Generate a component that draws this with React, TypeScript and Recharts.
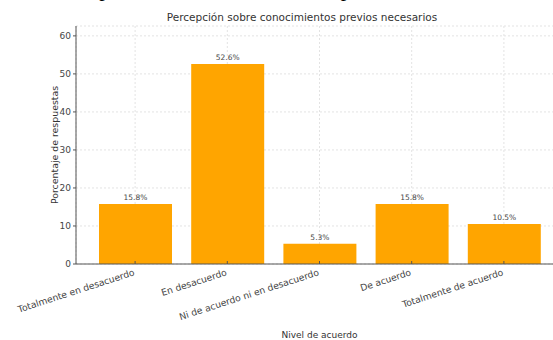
import { BarChart, Bar, XAxis, YAxis, CartesianGrid, LabelList } from "recharts";

const niveles = [
  "Totalmente en desacuerdo",
  "En desacuerdo",
  "Ni de acuerdo ni en desacuerdo",
  "De acuerdo",
  "Totalmente de acuerdo",
];
const porcentajes = [15.8, 52.6, 5.3, 15.8, 10.5];
const yTicks = [0, 10, 20, 30, 40, 50, 60];

const font = "'DejaVu Sans', sans-serif";
const axisColor = "#555";
const textColor = "#444";

const data = niveles.map((nivel, i) => ({ nivel, pct: porcentajes[i] }));

// rotated category label, right end pinned just under its tick
function XTick({ x, y, payload }: any) {
  const ay = y + 12;
  return (
    <text
      x={x}
      y={ay}
      textAnchor="end"
      transform={`rotate(-18, ${x}, ${ay})`}
      fontSize={9.2}
      fontFamily={font}
      fill={textColor}
    >
      {payload.value}
    </text>
  );
}

export default function App() {
  return (
    <div
      style={{
        position: "absolute",
        left: 0,
        top: 0,
        width: 553,
        height: 340,
        overflow: "hidden",
        background: "#fff",
      }}
    >
      {/* page heading above the figure, only its lowest strokes fit */}
      <div
        style={{
          position: "absolute",
          left: 0,
          top: 0,
          width: 553,
          height: 9,
          overflow: "hidden",
        }}
      >
        <div
          style={{
            position: "absolute",
            left: 0,
            top: -22,
            width: 553,
            textAlign: "center",
            whiteSpace: "nowrap",
            fontFamily: "'Liberation Serif', serif",
            fontSize: 22,
            lineHeight: "22px",
            color: "#000",
          }}
        >
          Percepción sobre conocimientos previos necesarios
        </div>
      </div>

      <div
        style={{
          position: "absolute",
          left: 0,
          top: 11,
          width: 604,
          textAlign: "center",
          fontFamily: font,
          fontSize: 10.5,
          color: "#333",
        }}
      >
        Percepción sobre conocimientos previos necesarios
      </div>

      <BarChart
        width={600}
        height={340}
        data={data}
        margin={{ top: 26, right: 37, bottom: 0, left: 0 }}
        barSize={73}
      >
        <CartesianGrid stroke="#e3e3e3" strokeDasharray="2 2" />
        <XAxis
          dataKey="nivel"
          interval={0}
          height={76}
          padding={{ left: 13, right: 13 }}
          stroke={axisColor}
          tickSize={-3}
          tickLine={{ stroke: axisColor }}
          tick={<XTick />}
          label={{
            value: "Nivel de acuerdo",
            position: "insideBottom",
            offset: 2,
            fontSize: 9,
            fontFamily: font,
            fill: "#333",
          }}
        />
        <YAxis
          width={76}
          domain={[0, 62.6]}
          ticks={yTicks}
          stroke={axisColor}
          tickSize={3}
          tick={{ fontSize: 9, fontFamily: font, fill: textColor }}
          label={{
            value: "Porcentaje de respuestas",
            angle: -90,
            position: "center",
            dx: 17,
            fontSize: 9.4,
            fontFamily: font,
            fill: "#333",
          }}
        />
        <Bar dataKey="pct" fill="#FFA500" isAnimationActive={false}>
          <LabelList
            dataKey="pct"
            position="top"
            offset={4}
            formatter={(v: any) => `${v}%`}
            fontSize={7.5}
            fontFamily={font}
            fill={textColor}
          />
        </Bar>
      </BarChart>
    </div>
  );
}
